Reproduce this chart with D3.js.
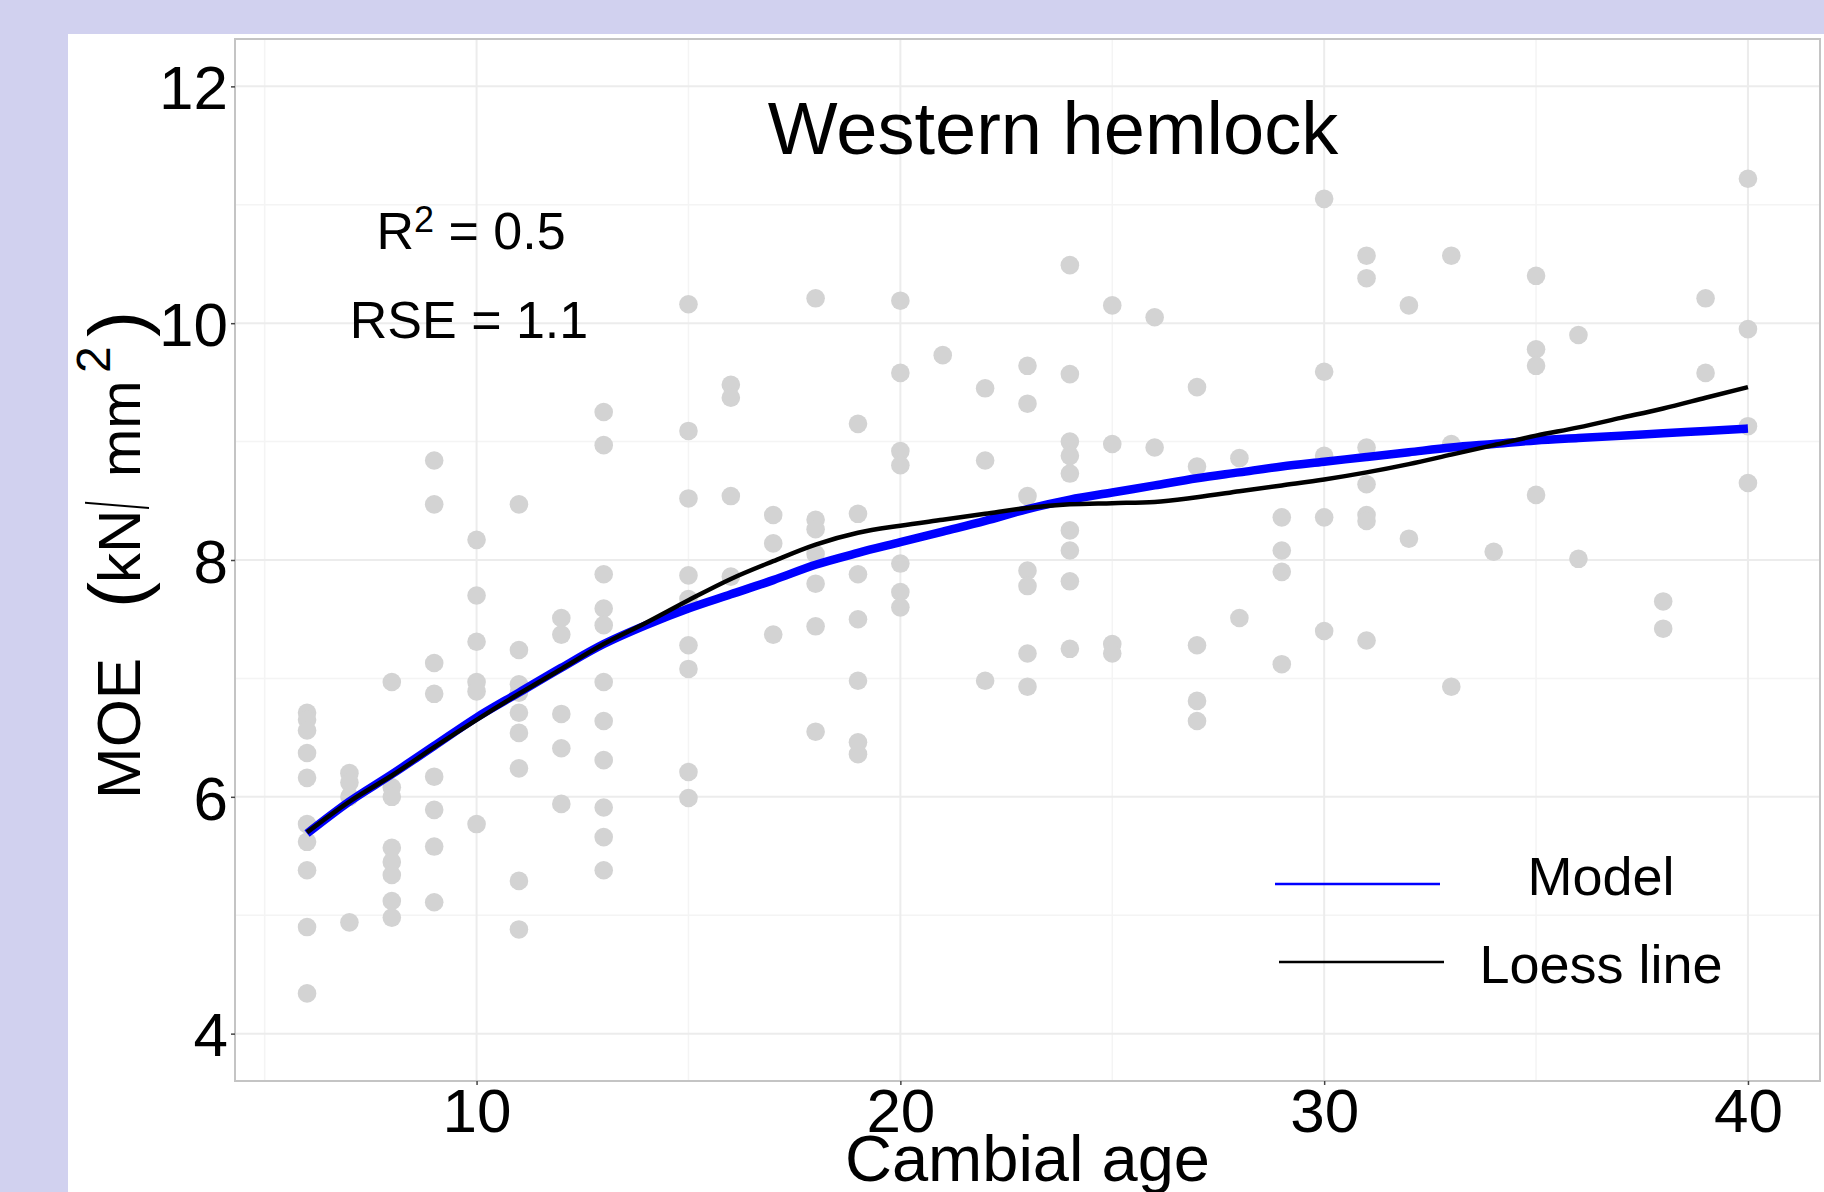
<!DOCTYPE html>
<html>
<head>
<meta charset="utf-8">
<script src="https://cdn.jsdelivr.net/npm/d3@7"></script>
<style>
	html, body { margin: 0; padding: 0; background: #d1d1ef; overflow: hidden; }
	svg { display: block; }
</style>
</head>
<body>
<div id="chart"></div>
<script>
// cambial age of each column of samples, and the MOE values in it
const columnAges = [6, 7, 8, 9, 10, 11, 12, 13, 15, 16, 17, 18, 19, 20, 21, 22, 23, 24, 25, 26, 27, 28, 29, 30, 31, 32, 33, 34, 35, 36, 38, 39, 40];
const columnMOE = [
	[6.71, 6.65, 6.56, 6.37, 6.16, 5.77, 5.62, 5.38, 4.90, 4.34],
	[6.20, 6.12, 6.00, 4.94],
	[6.97, 6.08, 6.00, 5.57, 5.45, 5.34, 5.12, 4.98],
	[8.84, 8.47, 7.13, 6.87, 6.17, 5.89, 5.58, 5.11],
	[8.17, 7.70, 7.31, 6.97, 6.89, 5.77],
	[8.47, 7.24, 6.95, 6.88, 6.71, 6.54, 6.24, 5.29, 4.88],
	[7.51, 7.37, 6.70, 6.41, 5.94],
	[9.25, 8.97, 7.88, 7.59, 7.45, 6.97, 6.64, 6.31, 5.91, 5.66, 5.38],
	[10.16, 9.09, 8.52, 7.87, 7.67, 7.28, 7.08, 6.21, 5.99],
	[9.48, 9.37, 8.54, 7.86],
	[8.38, 8.14, 7.37],
	[10.21, 8.34, 8.26, 8.05, 7.80, 7.44, 6.55],
	[9.15, 8.39, 7.88, 7.50, 6.98, 6.46, 6.36],
	[10.19, 9.58, 8.92, 8.80, 7.97, 7.73, 7.60],
	[9.73],
	[9.45, 8.84, 6.98],
	[9.64, 9.32, 8.54, 7.91, 7.78, 7.21, 6.93],
	[10.49, 9.57, 9.00, 8.88, 8.73, 8.25, 8.08, 7.82, 7.25],
	[10.15, 8.98, 7.29, 7.21],
	[10.05, 8.95],
	[9.46, 8.79, 7.28, 6.81, 6.64],
	[8.86, 7.51],
	[8.36, 8.08, 7.90, 7.12],
	[11.05, 9.59, 8.88, 8.36, 7.40],
	[10.57, 10.38, 8.95, 8.64, 8.38, 8.33, 7.32],
	[10.15, 8.18],
	[10.57, 8.98, 6.93],
	[8.07],
	[10.40, 9.78, 9.64, 8.55],
	[9.90, 8.01],
	[7.65, 7.42],
	[10.21, 9.58],
	[11.22, 9.95, 9.13, 8.65]
];

const curveAges = [6, 7, 8, 9, 10, 11, 12, 13, 14, 15, 16, 17, 18, 19, 20, 21, 22, 23, 24, 25, 26, 27, 28, 29, 30, 31, 32, 33, 34, 35, 36, 37, 38, 39, 40];
const modelMOE = [5.69, 5.96, 6.19, 6.43, 6.67, 6.88, 7.09, 7.29, 7.45, 7.59, 7.71, 7.83, 7.96, 8.06, 8.15, 8.24, 8.33, 8.43, 8.51, 8.57, 8.63, 8.69, 8.74, 8.79, 8.83, 8.87, 8.91, 8.95, 8.98, 9.01, 9.03, 9.05, 9.07, 9.09, 9.11];
const loessMOE = [5.70, 5.96, 6.18, 6.42, 6.65, 6.87, 7.08, 7.29, 7.47, 7.66, 7.84, 7.99, 8.13, 8.23, 8.29, 8.34, 8.39, 8.44, 8.47, 8.48, 8.49, 8.53, 8.58, 8.63, 8.68, 8.74, 8.81, 8.89, 8.97, 9.05, 9.12, 9.20, 9.28, 9.37, 9.46];

const xTicks = [10, 20, 30, 40];
const xMinor = [5, 15, 25, 35];
const yTicks = [4, 6, 8, 10, 12];
const yMinor = [5, 7, 9, 11];
const legendLabels = ['Model', 'Loess line'];
const legendColours = ['#0000ff', '#000000'];

const width = 1824;
const height = 1192;
const panel = {left: 235, right: 1820, top: 39, bottom: 1081};
const pointColour = '#d3d3d3';
const font = "'Liberation Sans', Arial, sans-serif";

let x, y;

const init = () => {
	const svg = d3.select('#chart').append('svg')
		.attr('width', width)
		.attr('height', height)
		.attr('font-family', font);

	// lavender frame with white page
	svg.append('rect')
		.attr('width', width).attr('height', height)
		.attr('fill', '#d1d1ef');
	svg.append('rect')
		.attr('x', 68).attr('y', 34)
		.attr('width', width - 68).attr('height', height - 34)
		.attr('fill', '#ffffff');

	// scales, with ggplot style padding
	x = d3.scaleLinear()
		.domain([4.3, 41.7])
		.range([panel.left, panel.right]);
	y = d3.scaleLinear()
		.domain([3.6, 12.4])
		.range([panel.bottom, panel.top]);

	drawGrid(svg);
	drawPoints(svg);
	drawCurves(svg);
	drawAxes(svg);
	addAnnotations(svg);
	addLegend(svg);
	addYTitle(svg);
}

function drawGrid(svg) {
	const grid = svg.append('g').attr('class', 'grid');

	grid.selectAll('.vminor').data(xMinor).enter().append('line')
		.attr('x1', d => x(d)).attr('x2', d => x(d))
		.attr('y1', panel.top).attr('y2', panel.bottom)
		.attr('stroke', '#f4f4f4').attr('stroke-width', 1.5);
	grid.selectAll('.hminor').data(yMinor).enter().append('line')
		.attr('x1', panel.left).attr('x2', panel.right)
		.attr('y1', d => y(d)).attr('y2', d => y(d))
		.attr('stroke', '#f4f4f4').attr('stroke-width', 1.5);
	grid.selectAll('.vmajor').data(xTicks).enter().append('line')
		.attr('x1', d => x(d)).attr('x2', d => x(d))
		.attr('y1', panel.top).attr('y2', panel.bottom)
		.attr('stroke', '#ececec').attr('stroke-width', 2);
	grid.selectAll('.hmajor').data(yTicks).enter().append('line')
		.attr('x1', panel.left).attr('x2', panel.right)
		.attr('y1', d => y(d)).attr('y2', d => y(d))
		.attr('stroke', '#ececec').attr('stroke-width', 2);
}

function drawPoints(svg) {
	const points = [];
	columnAges.forEach((age, i) => {
		columnMOE[i].forEach(v => points.push({age: age, moe: v}));
	});

	svg.append('g')
		.attr('class', 'points')
		.selectAll('circle')
		.data(points)
		.enter().append('circle')
			.attr('cx', d => x(d.age))
			.attr('cy', d => y(d.moe))
			.attr('r', 9.3)
			.attr('fill', pointColour);
}

function drawCurves(svg) {
	const line = d3.line()
		.x(d => x(d[0]))
		.y(d => y(d[1]))
		.curve(d3.curveMonotoneX);

	svg.append('path')
		.datum(curveAges.map((a, i) => [a, modelMOE[i]]))
		.attr('d', line)
		.attr('fill', 'none')
		.attr('stroke', '#0000ff')
		.attr('stroke-width', 8.5);

	svg.append('path')
		.datum(curveAges.map((a, i) => [a, loessMOE[i]]))
		.attr('d', line)
		.attr('fill', 'none')
		.attr('stroke', '#000000')
		.attr('stroke-width', 4.5);
}

function drawAxes(svg) {
	// panel border
	svg.append('rect')
		.attr('x', panel.left).attr('y', panel.top)
		.attr('width', panel.right - panel.left)
		.attr('height', panel.bottom - panel.top)
		.attr('fill', 'none')
		.attr('stroke', '#c4c4c4')
		.attr('stroke-width', 2);

	const xAxis = svg.append('g')
		.attr('transform', `translate(0,${panel.bottom})`)
		.call(d3.axisBottom(x).tickValues(xTicks).tickSize(4).tickPadding(2).tickFormat(d3.format('d')))
		.attr('font-family', font);
	xAxis.select('.domain').remove();
	xAxis.selectAll('line').attr('stroke', '#444').attr('stroke-width', 1.5);
	xAxis.selectAll('text')
		.attr('font-size', 62)
		.attr('fill', '#000')
		.attr('dy', null)
		.attr('y', 51);

	const yAxis = svg.append('g')
		.attr('transform', `translate(${panel.left},0)`)
		.call(d3.axisLeft(y).tickValues(yTicks).tickSize(4).tickPadding(3).tickFormat(d3.format('d')))
		.attr('font-family', font);
	yAxis.select('.domain').remove();
	yAxis.selectAll('line').attr('stroke', '#444').attr('stroke-width', 1.5);
	yAxis.selectAll('text')
		.attr('font-size', 62)
		.attr('fill', '#000')
		.attr('dy', '0.36em');

	svg.append('text')
		.attr('x', (panel.left + panel.right) / 2)
		.attr('y', 1181)
		.attr('text-anchor', 'middle')
		.attr('font-size', 65)
		.text('Cambial age');
}

function addAnnotations(svg) {
	svg.append('text')
		.attr('x', 1053).attr('y', 154)
		.attr('text-anchor', 'middle')
		.attr('font-size', 74)
		.text('Western hemlock');

	const r2 = svg.append('text')
		.attr('x', 471).attr('y', 249)
		.attr('text-anchor', 'middle')
		.attr('font-size', 52);
	r2.append('tspan').text('R');
	r2.append('tspan').attr('font-size', 36).attr('dy', -17).text('2');
	r2.append('tspan').attr('dy', 17).text(' = 0.5');

	svg.append('text')
		.attr('x', 469).attr('y', 338)
		.attr('text-anchor', 'middle')
		.attr('font-size', 52)
		.text('RSE = 1.1');
}

function addLegend(svg) {
	const legend = svg.append('g').attr('class', 'legend');
	const rows = [{y: 884, ty: 895}, {y: 962, ty: 983}];

	legend.selectAll('line')
		.data(legendLabels)
		.enter().append('line')
			.attr('x1', (d, i) => 1275 + i * 4)
			.attr('x2', (d, i) => 1440 + i * 4)
			.attr('y1', (d, i) => rows[i].y)
			.attr('y2', (d, i) => rows[i].y)
			.attr('stroke', (d, i) => legendColours[i])
			.attr('stroke-width', 2.5);

	legend.selectAll('text')
		.data(legendLabels)
		.enter().append('text')
			.attr('x', 1601)
			.attr('y', (d, i) => rows[i].ty)
			.attr('text-anchor', 'middle')
			.attr('font-size', 54)
			.text(d => d);
}

function addYTitle(svg) {
	// rotated plotmath style label: MOE (kN / mm^2)
	const g = svg.append('g')
		.attr('transform', 'translate(140,803) rotate(-90)');

	g.append('text').attr('x', 4).attr('y', 0).attr('font-size', 62).text('MOE');
	g.append('text').attr('x', 195).attr('y', 4).attr('font-size', 78).text('(');
	g.append('text').attr('x', 220).attr('y', 0).attr('font-size', 60).text('kN');
	g.append('text')
		.attr('transform', 'translate(294,8) scale(0.3,1)')
		.attr('font-size', 88)
		.text('/');
	g.append('text').attr('x', 326).attr('y', 0).attr('font-size', 58).text('mm');
	g.append('text').attr('x', 430).attr('y', -30).attr('font-size', 48).text('2');
	g.append('text').attr('x', 466).attr('y', 4).attr('font-size', 78).text(')');
}

init();
</script>
</body>
</html>
